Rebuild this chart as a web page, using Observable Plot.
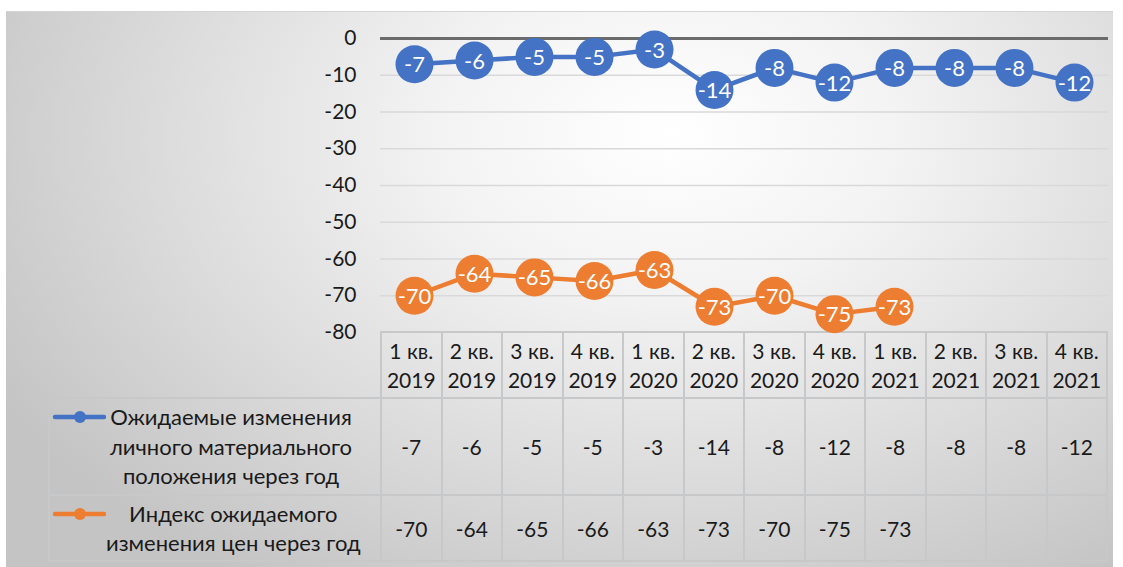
<!DOCTYPE html>
<html><head><meta charset="utf-8">
<script src="https://cdn.jsdelivr.net/npm/d3@7"></script>
<script src="https://cdn.jsdelivr.net/npm/@observablehq/plot@0.6"></script>
<style>
html,body{margin:0;padding:0;background:#fff;width:1123px;height:567px;overflow:hidden;font-family:Lato,"Open Sans",sans-serif;}
#frame{position:absolute;left:6px;top:11px;width:1107px;height:556px;
  background:radial-gradient(ellipse 70% 95% at 60% 22%, #ffffff 0%, #f3f3f3 30%, #dcdcdc 65%, #c4c4c4 100%);
  border-top:1px solid #d4d4d4;}
#chart{position:absolute;left:0;top:0;z-index:2;}
#tbl{position:absolute;left:48px;top:331px;width:1060px;border-collapse:collapse;table-layout:fixed;z-index:1;font-size:21px;color:#1a1a1a;}
#tbl td{border:2px solid #c6c8ca;text-align:center;vertical-align:middle;padding:0;white-space:pre-line;line-height:29px;}
#tbl td.blank{border:none;}
.leg{display:flex;align-items:flex-start;}
.leg svg{flex:none;}
.leg .txt{flex:1;text-align:center;line-height:29.5px;padding-right:24px;font-size:22px;white-space:pre;}
</style></head>
<body>
<div id="frame"></div>
<div id="chart"></div>
<table id="tbl"></table>
<script>
const categories = ["1 кв.\n2019","2 кв.\n2019","3 кв.\n2019","4 кв.\n2019","1 кв.\n2020","2 кв.\n2020","3 кв.\n2020","4 кв.\n2020","1 кв.\n2021","2 кв.\n2021","3 кв.\n2021","4 кв.\n2021"];
const seriesNames = ["Ожидаемые изменения\nличного материального\nположения через год", "Индекс ожидаемого\nизменения цен через год"];
const personalValues = [-7,-6,-5,-5,-3,-14,-8,-12,-8,-8,-8,-12];
const priceValues = [-70,-64,-65,-66,-63,-73,-70,-75,-73,null,null,null];
const seriesColors = ["#4472C4","#ED7D31"];
const yTicks = [0,-10,-20,-30,-40,-50,-60,-70,-80];

const seriesValues = [personalValues, priceValues];
const rows = [];
seriesValues.forEach((vals, s) => vals.forEach((v, i) => {
  if (v != null) rows.push({cat: categories[i], series: seriesNames[s], value: v});
}));

const chart = Plot.plot({
  width: 1123, height: 340,
  marginLeft: 380, marginRight: 15, marginTop: 38, marginBottom: 8,
  style: {fontFamily: "Lato, 'Open Sans', sans-serif", fontSize: "20px", color: "#1a1a1a", background: "transparent", overflow: "visible"},
  x: {type: "band", domain: categories, padding: 0, axis: null},
  y: {domain: [-80, 0], axis: null},
  color: {domain: seriesNames, range: seriesColors},
  marks: [
    Plot.ruleY(yTicks.filter(d => d !== 0 && d !== -80), {stroke: "#d9d9d9", strokeWidth: 1.5}),
    Plot.ruleY([0], {stroke: "#6b6b6b", strokeWidth: 3}),
    Plot.axisY({ticks: yTicks, tickSize: 0, tickPadding: 24, tickFormat: d => String(d), fontSize: 21, label: null}),
    Plot.line(rows, {x: "cat", y: "value", z: "series", stroke: "series", strokeWidth: 4.5}),
    Plot.dot(rows, {x: "cat", y: "value", fill: "series", r: 19, stroke: "none"}),
    Plot.text(rows, {x: "cat", y: "value", text: d => String(d.value), fill: "white", fontSize: 22, dy: 1})
  ]
});
document.getElementById("chart").appendChild(chart);

// data table
const tbl = document.getElementById("tbl");
const cg = document.createElement("colgroup");
const c0 = document.createElement("col"); c0.style.width = "332px"; cg.appendChild(c0);
categories.forEach(() => { const c = document.createElement("col"); cg.appendChild(c); });
tbl.appendChild(cg);
const hr = document.createElement("tr"); hr.style.height = "66px";
const blank = document.createElement("td"); blank.className = "blank"; hr.appendChild(blank);
categories.forEach(c => { const td = document.createElement("td"); td.textContent = c; hr.appendChild(td); });
tbl.appendChild(hr);
const rowHeights = ["97px", "66px"];
seriesValues.forEach((vals, s) => {
  const tr = document.createElement("tr"); tr.style.height = rowHeights[s];
  const lt = document.createElement("td");
  const leg = document.createElement("div"); leg.className = "leg";
  const sw = document.createElementNS("http://www.w3.org/2000/svg", "svg");
  sw.setAttribute("width", "56"); sw.setAttribute("height", "30");
  sw.innerHTML = `<line x1="5" x2="54" y1="15" y2="15" stroke="${seriesColors[s]}" stroke-width="4.5" stroke-linecap="round"/><circle cx="30" cy="15" r="6" fill="${seriesColors[s]}"/>`;
  leg.appendChild(sw);
  const tx = document.createElement("div"); tx.className = "txt"; tx.textContent = seriesNames[s];
  leg.appendChild(tx);
  lt.appendChild(leg);
  tr.appendChild(lt);
  vals.forEach(v => { const td = document.createElement("td"); td.textContent = v == null ? "" : String(v); tr.appendChild(td); });
  tbl.appendChild(tr);
});
</script>
</body></html>
